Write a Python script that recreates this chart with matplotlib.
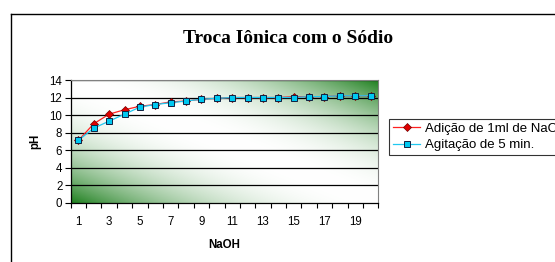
import numpy as np
import matplotlib
matplotlib.use("Agg")
import matplotlib.pyplot as plt
from matplotlib.lines import Line2D
from matplotlib.colors import to_rgb

categories = list(range(1, 21))
adicao = [7.1, 9.0, 10.1, 10.6, 11.0, 11.2, 11.5, 11.6, 11.8, 11.9,
          12.0, 12.0, 12.0, 12.0, 12.1, 12.1, 12.1, 12.2, 12.2, 12.2]
agitacao = [7.1, 8.5, 9.3, 10.1, 10.9, 11.2, 11.4, 11.6, 11.8, 11.9,
            12.0, 12.0, 12.0, 12.0, 12.0, 12.1, 12.1, 12.2, 12.2, 12.2]
xtick_labels = [str(c) for c in categories[::2]]
title = "Troca Iônica com o Sódio"
label1 = "Adição de 1ml de NaCl"
label2 = "Agitação de 5 min."

W, H = 555, 262
fig = plt.figure(figsize=(W / 100, H / 100), dpi=100)
fig.patch.set_facecolor("white")

L, R, T, B = 70.7, 378.3, 80.0, 202.5
ax = fig.add_axes([L / W, 1 - B / H, (R - L) / W, (B - T) / H])

# diagonal gradient background
n = 300
u = np.linspace(0, 1, n)
X, Y = np.meshgrid(u, u)
t = np.abs((X + Y) / 2 - 0.5) * 2
wgt = t ** 2.2
green = np.array(to_rgb("#1e7f1e"))
white = np.array([1.0, 1.0, 1.0])
img = white[None, None, :] * (1 - wgt[..., None]) + green[None, None, :] * wgt[..., None]
ax.imshow(img, extent=[0, 1, 0, 1], transform=ax.transAxes, origin="lower",
          aspect="auto", zorder=0, interpolation="bilinear")

x = np.arange(1, len(categories) + 1)
ax.set_xlim(0.5, len(categories) + 0.5)
ax.set_ylim(0, 14)
for yv in range(2, 15, 2):
    ax.axhline(yv, color="black", lw=0.9, zorder=1)

ax.plot(x, adicao, color="#ff2020", lw=0.9, marker="D", ms=3.8,
        mfc="#e00000", mec="#700000", mew=0.5, zorder=3, label=label1)
ax.plot(x, agitacao, color="#20c8f0", lw=0.9, marker="s", ms=4.5,
        mfc="#00c8f0", mec="#102040", mew=0.7, zorder=4, label=label2)

ax.set_xticks(np.arange(0.5, len(categories) + 1, 1))
ax.set_xticklabels([])
ax.set_xticks(x[::2], minor=True)
ax.set_xticklabels(xtick_labels, minor=True)
ax.tick_params(axis="x", which="major", direction="out", length=3.8, width=0.8)
ax.tick_params(axis="x", which="minor", length=0, pad=10, labelsize=8.3)
ax.set_yticks(range(0, 15, 2))
ax.tick_params(axis="y", direction="out", length=4, width=0.8, labelsize=8.3, pad=2)
for lab in ax.get_xticklabels(minor=True) + ax.get_yticklabels():
    lab.set_family("Liberation Sans")

for s in ["left", "bottom"]:
    ax.spines[s].set_color("black")
    ax.spines[s].set_linewidth(0.9)
for s in ["top", "right"]:
    ax.spines[s].set_color("#808080")
    ax.spines[s].set_linewidth(0.8)

ax.set_xlabel("NaOH", family="Liberation Sans", fontweight="bold", fontsize=8.3, labelpad=8)
ax.set_ylabel("pH", family="Liberation Sans", fontweight="bold", fontsize=8.3, labelpad=6)

fig.text(288 / W, 1 - 43.3 / H, title, family="Liberation Serif", fontweight="bold",
         fontsize=14, ha="center", va="baseline")

leg = fig.legend(loc="upper left", bbox_to_anchor=(389.3 / W, 1 - 119.3 / H),
                 prop={"family": "Liberation Sans", "size": 9.5},
                 frameon=True, fancybox=False, handlelength=2.1,
                 borderpad=0.26, labelspacing=0.31, handletextpad=0.33,
                 borderaxespad=0)
leg.get_frame().set_edgecolor("black")
leg.get_frame().set_linewidth(0.8)

# outer chart border (extends beyond image)
fig.add_artist(Line2D([10.7 / W, 10.7 / W], [0, 1 - 14 / H], color="black", lw=1.0,
                      transform=fig.transFigure))
fig.add_artist(Line2D([10.7 / W, 1], [1 - 14 / H, 1 - 14 / H], color="black", lw=1.0,
                      transform=fig.transFigure))

fig.savefig("out.png", dpi=100)
